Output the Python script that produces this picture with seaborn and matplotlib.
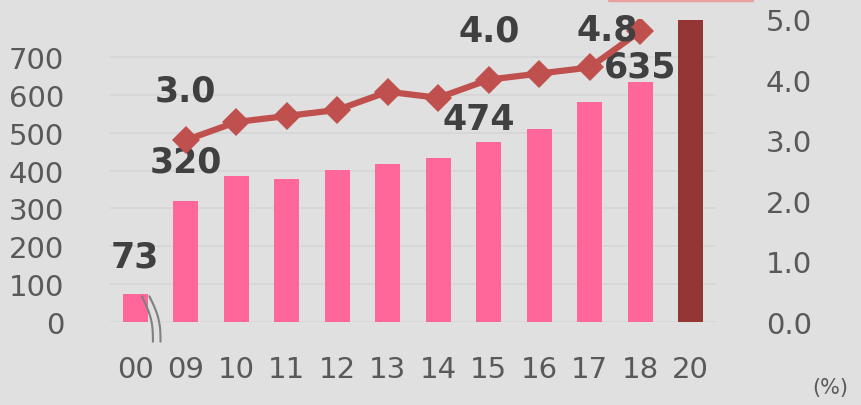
import numpy as np
import pandas as pd
import matplotlib
matplotlib.use("Agg")
import matplotlib.pyplot as plt
import seaborn as sns

# ─── data ─────────────────────────────────────────────────────────────
years = ["00", "09", "10", "11", "12", "13", "14", "15", "16", "17", "18", "20"]
amount = [73, 320, 386, 377, 402, 418, 434, 474, 510, 580, 635, 797]
share = [np.nan, 3.0, 3.3, 3.4, 3.5, 3.8, 3.7, 4.0, 4.1, 4.2, 4.8, np.nan]
bar_labels = {"00": "73", "09": "320", "15": "474", "18": "635"}
line_labels = {"09": "3.0", "15": "4.0", "18": "4.8"}

BG = "#e0e0e0"
PINK = "#ff6699"
DARK = "#943634"
LINE = "#c0504d"
TXT = "#404040"
TICK = "#595959"

sns.set_theme(style="white")
plt.rcParams["font.family"] = ["DejaVu Sans"]

fig = plt.figure(figsize=(8.62, 4.06), dpi=100, facecolor=BG)
ax = fig.add_axes([0.1276, 0.2044, 0.703, 0.7463], facecolor=BG)

df = pd.DataFrame({"year": years, "amount": amount, "share": share})
palette = [PINK] * (len(years) - 1) + [DARK]
sns.barplot(data=df, x="year", y="amount", hue="year", palette=palette,
            width=0.5, legend=False, ax=ax, saturation=1, linewidth=0)

ax.set_ylim(0, 800)
ax.set_xlim(-0.5, len(years) - 0.5)
ax.set_yticks(range(0, 800, 100))
ax.yaxis.grid(True, color="#d6d6d6", lw=1.2)
ax.set_axisbelow(True)
ax.set_xlabel("")
ax.set_ylabel("")
ax.tick_params(axis="y", length=0, pad=33, labelsize=21, labelcolor=TICK)
ax.tick_params(axis="x", length=0, pad=24, labelsize=21, labelcolor=TICK)
for s in ax.spines.values():
    s.set_visible(False)

# right axis: share (%)
ax2 = ax.twinx()
pos = np.arange(len(years))
sns.lineplot(x=pos, y=df["share"], color=LINE, lw=4.5, marker="D",
             markersize=14, markeredgewidth=0, ax=ax2)
ax2.set_ylim(0, 5)
ax2.set_yticks(np.arange(0, 5.1, 1.0))
ax2.set_yticklabels([f"{v:.1f}" for v in np.arange(0, 5.1, 1.0)])
ax2.set_ylabel("")
ax2.tick_params(axis="y", length=0, pad=36, labelsize=21, labelcolor=TICK)
for s in ax2.spines.values():
    s.set_visible(False)
ax2.grid(False)

# value annotations (offsets in axis units)
bar_off = {"00": (0, 100), "09": (0, 105), "15": (-0.2, 62), "18": (0, 40)}
line_off = {"09": (0, 0.82), "15": (0, 0.81), "18": (-0.66, 0.03)}
for i, y in enumerate(years):
    if y in bar_labels:
        dx, dy = bar_off[y]
        ax.text(i + dx, amount[i] + dy, bar_labels[y], ha="center", va="center",
                fontsize=25, fontweight="bold", color=TXT)
    if y in line_labels:
        dx, dy = line_off[y]
        ax2.text(i + dx, share[i] + dy, line_labels[y], ha="center", va="center",
                 fontsize=25, fontweight="bold", color=TXT)

# wavy break mark on the first bar
t = np.linspace(0, 1, 60)
for off in (0.0, 0.15):
    xs = 0.13 + off + 0.22 * t + 0.07 * np.sin(t * np.pi)
    ys = 68 - t * 120
    ax.plot(xs, ys, color="#808080", lw=1.5, clip_on=False)

fig.text(0.963, 0.045, "(%)", ha="center", va="center", fontsize=15, color=TICK)
fig.add_artist(plt.Line2D([0.707, 0.872], [0.998, 0.998], color="#e8a0a0", lw=2.5))

fig.savefig("out.png", dpi=100, facecolor=BG)
